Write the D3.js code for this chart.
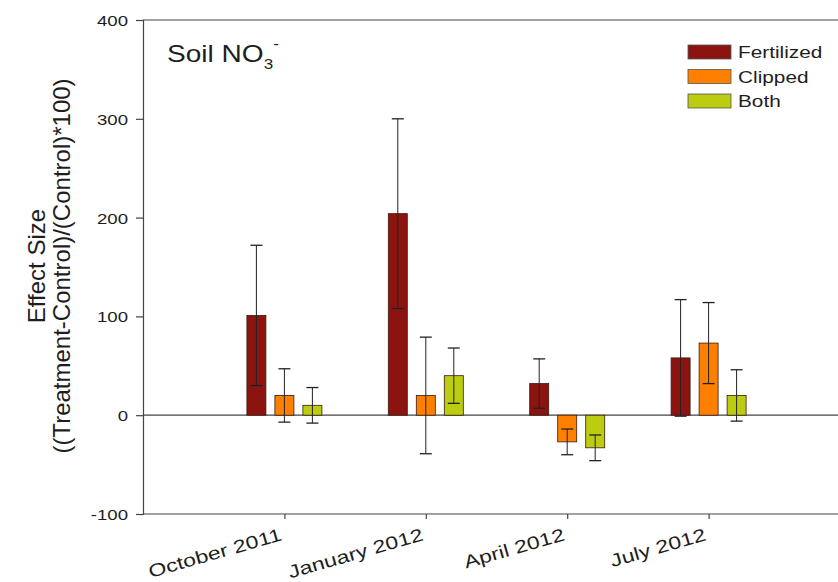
<!DOCTYPE html>
<html>
<head>
<meta charset="utf-8">
<script src="https://cdn.jsdelivr.net/npm/d3@7"></script>
<style>
  html, body { margin: 0; padding: 0; background: #fff; }
  svg { display: block; font-family: "Liberation Sans", Arial, sans-serif; }
</style>
</head>
<body>
<svg id="chart" width="838" height="582"></svg>
<script>
// Sampling dates and treatments
const dates = ["October 2011", "January 2012", "April 2012", "July 2012"];
const treatments = ["Fertilized", "Clipped", "Both"];
const colors = ["#8c1410", "#ff8000", "#bccc10"];

// Mean effect size per date, one array per treatment
const fertilized = [101, 204, 32, 58];
const clipped    = [20, 20, -27, 73];
const both       = [10, 40, -33, 20];

// Standard errors per date, one array per treatment
const fertilizedErr = [71, 96, 25, 59];
const clippedErr    = [27, 59, 13, 41];
const bothErr       = [18, 28, 13, 26];

const yTicks = [-100, 0, 100, 200, 300, 400];

const series = [
  { name: treatments[0], values: fertilized, err: fertilizedErr, color: colors[0] },
  { name: treatments[1], values: clipped,    err: clippedErr,    color: colors[1] },
  { name: treatments[2], values: both,       err: bothErr,       color: colors[2] }
];

const svg = d3.select("#chart");
const plotLeft = 143, plotTop = 20, plotBottom = 514;
const plotRight = 850;
const ink = "#1e1e1e";

// Dates sit at positions 1..4 on a 0..5 linear axis
const x = d3.scaleLinear().domain([0, 5]).range([plotLeft, plotRight]);
const y = d3.scaleLinear().domain([-100, 400]).range([plotBottom, plotTop]);

const barW = 19, barStep = 28;
const axisColor = "#444";

// Frame lines (top and zero line)
svg.append("line").attr("x1", plotLeft).attr("x2", 838).attr("y1", plotTop).attr("y2", plotTop)
  .attr("stroke", axisColor).attr("stroke-width", 1.2);
svg.append("line").attr("x1", plotLeft).attr("x2", 838).attr("y1", y(0)).attr("y2", y(0))
  .attr("stroke", axisColor).attr("stroke-width", 1.2);

// Bars and error bars
series.forEach((s, si) => {
  const g = svg.append("g");
  s.values.forEach((v, i) => {
    const cx = x(i + 1) + (si - 1) * barStep;
    g.append("rect")
      .attr("x", cx - barW / 2)
      .attr("y", Math.min(y(v), y(0)))
      .attr("width", barW)
      .attr("height", Math.abs(y(v) - y(0)))
      .attr("fill", s.color)
      .attr("stroke", "#3a1a10")
      .attr("stroke-width", 0.8);
    const hi = v + s.err[i], lo = v - s.err[i];
    g.append("line").attr("x1", cx).attr("x2", cx).attr("y1", y(hi)).attr("y2", y(lo))
      .attr("stroke", "#222").attr("stroke-width", 1);
    [hi, lo].forEach(e => {
      g.append("line").attr("x1", cx - 6).attr("x2", cx + 6).attr("y1", y(e)).attr("y2", y(e))
        .attr("stroke", "#222").attr("stroke-width", 1.3);
    });
  });
});

// Y axis
const yAxis = svg.append("g").attr("transform", `translate(${plotLeft},0)`)
  .call(d3.axisLeft(y).tickValues(yTicks).tickSize(7).tickFormat(d => String(d)));
yAxis.selectAll("path, line").attr("stroke", axisColor).attr("stroke-width", 1.2);
yAxis.selectAll("text")
  .attr("font-size", 15.5).attr("fill", ink)
  .attr("font-family", "'Liberation Sans', Arial, sans-serif")
  .attr("x", 0).attr("dy", "0.36em")
  .attr("transform", "translate(-15,0) scale(1.2,1)");

// X axis
const xAxis = svg.append("g").attr("transform", `translate(0,${plotBottom})`)
  .call(d3.axisBottom(x).tickValues([1, 2, 3, 4]).tickSize(5).tickFormat(d => dates[d - 1]));
xAxis.select("path").attr("d", `M${plotLeft},0H838`).attr("stroke", axisColor).attr("stroke-width", 1.2);
xAxis.selectAll("line").attr("stroke", axisColor).attr("stroke-width", 1.2);
xAxis.selectAll("text")
  .attr("font-size", 18).attr("fill", ink)
  .attr("font-family", "'Liberation Sans', Arial, sans-serif")
  .attr("text-anchor", "end")
  .attr("x", 0).attr("y", 0).attr("dy", 0)
  .attr("transform", "translate(-2,26) rotate(-16) scale(1.28,1)");

// Y axis title, two lines
svg.append("text")
  .attr("transform", "translate(45,266) rotate(-90)")
  .attr("text-anchor", "middle").attr("font-size", 24).attr("fill", ink)
  .text("Effect Size");
svg.append("text")
  .attr("transform", "translate(70,266) rotate(-90)")
  .attr("text-anchor", "middle").attr("font-size", 24).attr("fill", ink)
  .text("((Treatment-Control)/(Control)*100)");

// Panel title with NO3- formatting
const title = svg.append("text")
  .attr("transform", "translate(167,62) scale(1.22,1)")
  .attr("font-size", 23).attr("fill", ink);
title.append("tspan").text("Soil NO");
title.append("tspan").attr("font-size", 14).attr("dy", 7).text("3");
title.append("tspan").attr("font-size", 14).attr("dy", -20).text("-");

// Legend
const legend = svg.append("g").attr("transform", "translate(688,45)");
series.forEach((s, i) => {
  const row = legend.append("g").attr("transform", `translate(0,${i * 24.5})`);
  row.append("rect").attr("width", 43).attr("height", 14)
    .attr("fill", s.color).attr("stroke", "#555").attr("stroke-width", 0.8);
  row.append("text").attr("transform", "translate(50,13) scale(1.3,1)")
    .attr("font-size", 16).attr("fill", ink).text(s.name);
});
</script>
</body>
</html>
